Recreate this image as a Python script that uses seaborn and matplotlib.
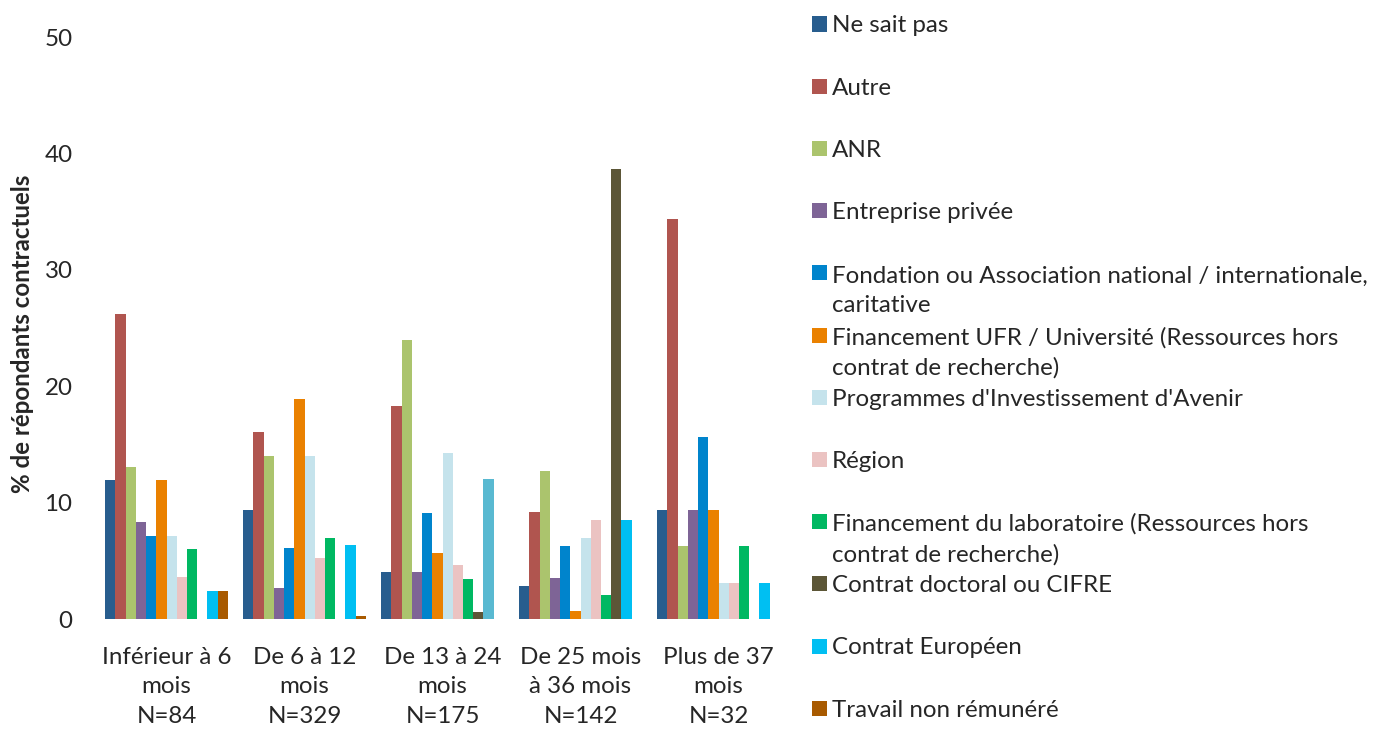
import numpy as np
import pandas as pd
import matplotlib
matplotlib.use("Agg")
import matplotlib.pyplot as plt
from matplotlib.patches import Rectangle
import seaborn as sns

# -------------------------------
# Data (% of contract respondents, by contract length)
# -------------------------------
groupes = ["Inférieur à 6\nmois\nN=84", "De 6 à 12\nmois\nN=329",
           "De 13 à 24\nmois\nN=175", "De 25 mois\nà 36 mois\nN=142",
           "Plus de 37\nmois\nN=32"]

sources = ["Ne sait pas", "Autre", "ANR", "Entreprise privée",
           "Fondation ou Association national / internationale,\ncaritative",
           "Financement UFR / Université (Ressources hors\ncontrat de recherche)",
           "Programmes d'Investissement d'Avenir", "Région",
           "Financement du laboratoire (Ressources hors\ncontrat de recherche)",
           "Contrat doctoral ou CIFRE", "Contrat Européen", "Travail non rémunéré"]

couleurs = ["#285D8E", "#B0554F", "#ABC46D", "#7E6496", "#0084CC", "#EA8100",
            "#C5E3EC", "#EBC3C2", "#00B862", "#5C5637", "#00BFF2", "#A85A00"]

ne_sait_pas = [11.9, 9.4, 4.0, 2.8, 9.4]
autre = [26.2, 16.1, 18.3, 9.2, 34.4]
anr = [13.1, 14.0, 24.0, 12.7, 6.3]
entreprise = [8.3, 2.7, 4.0, 3.5, 9.4]
fondation = [7.1, 6.1, 9.1, 6.3, 15.6]
ufr = [11.9, 18.9, 5.7, 0.7, 9.4]
pia = [7.1, 14.0, 14.3, 7.0, 3.1]
region = [3.6, 5.2, 4.6, 8.5, 3.1]
labo = [6.0, 7.0, 3.4, 2.1, 6.3]
doctoral = [np.nan, np.nan, 0.6, 38.7, np.nan]
europeen = [2.4, 6.4, 12.0, 8.5, 3.1]
benevole = [2.4, 0.3, np.nan, np.nan, np.nan]

series = [ne_sait_pas, autre, anr, entreprise, fondation, ufr, pia, region,
          labo, doctoral, europeen, benevole]

rows = []
for src, vals in zip(sources, series):
    for g, v in zip(groupes, vals):
        rows.append({"groupe": g, "source": src, "pct": v})
df = pd.DataFrame(rows).dropna()

# -------------------------------
# Plot
# -------------------------------
sns.set_style("white")
plt.rcParams["font.family"] = ["Lato", "DejaVu Sans"]
FS = 17.4
LS = 1.5          # line spacing of the wrapped labels
STEP = 31         # px between two lines of a wrapped label

fig = plt.figure(figsize=(13.86, 7.29), dpi=100)
W, H = 1386, 729
ax = fig.add_axes([97.5 / W, 110 / H, 690 / W, 582 / H])

sns.barplot(data=df, x="groupe", y="pct", hue="source", order=groupes,
            hue_order=sources, palette=couleurs, saturation=1, width=0.89,
            gap=0, linewidth=0, legend=False, ax=ax)

# the "Contrat Européen" bar of the 13-24 month group is drawn in another blue
eu_bars = sorted(ax.containers[sources.index("Contrat Européen")],
                 key=lambda p: p.get_x())
eu_bars[2].set_facecolor("#59B9D1")

ax.set_ylim(0, 50)
ax.set_xlim(-0.5, 4.5)
ax.set_yticks([0, 10, 20, 30, 40, 50])
ax.tick_params(axis="y", length=0, labelsize=FS, pad=18)
ax.tick_params(axis="x", length=0, labelsize=FS, pad=20)
for lab in ax.get_xticklabels():
    lab.set_linespacing(LS)
ax.set_xlabel("")
ax.set_ylabel("% de répondants contractuels", fontsize=FS, fontweight="bold")
ax.yaxis.set_label_coords(-0.092, 0.49)
sns.despine(ax=ax, left=True, bottom=True)

# legend, one entry every ~62 px, multi-line labels flow downward
for i, (src, col) in enumerate(zip(sources, couleurs)):
    yc = 24 + i * 62.2
    nlines = src.count("\n") + 1
    fig.patches.append(Rectangle((812 / W, 1 - (yc + 7.5) / H), 15 / W, 15 / H,
                                 transform=fig.transFigure, facecolor=col,
                                 edgecolor="none"))
    fig.text(832 / W, 1 - (yc + 8.5 + (nlines - 1) * STEP) / H, src,
             fontsize=FS, va="baseline", ha="left", linespacing=LS)

plt.savefig("out.png", dpi=100)
